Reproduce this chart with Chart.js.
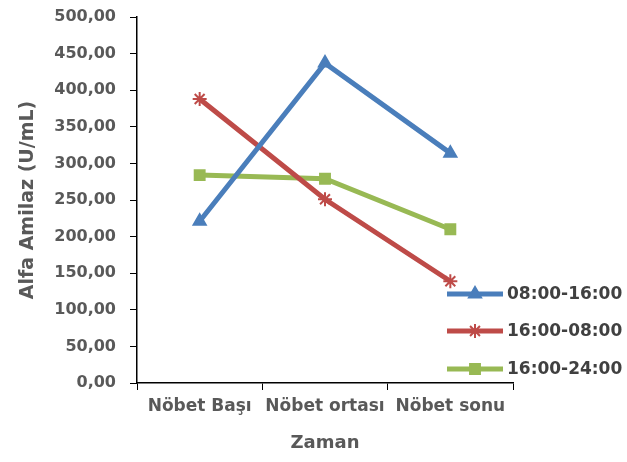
<!DOCTYPE html>
<html>
<head>
<meta charset="utf-8">
<script src="https://cdn.jsdelivr.net/npm/chart.js@4.4.1/dist/chart.umd.min.js"></script>
<style>
  html, body { margin: 0; padding: 0; background: #fff; }
  #kutu { width: 627px; height: 462px; }
</style>
</head>
<body>
<div id="kutu"><canvas id="grafik"></canvas></div>
<script>
const kategoriler = ["Nöbet Başı", "Nöbet ortası", "Nöbet sonu"];
const seriAdlari = ["08:00-16:00", "16:00-08:00", "16:00-24:00"];
const vardiya1 = [221, 437, 314];
const vardiya2 = [388, 251, 139];
const vardiya3 = [284, 279, 210];
const yMin = 0;
const yMax = 500;
const yAdim = 50;

const renkler = ["#4A7EBB", "#BE4B48", "#98B954"];
const isaretler = ["triangle", "star", "rect"];
const isaretBoyu = [7, 7, 7];

const yaziRengi = "#595959";
const yazi = "DejaVu Sans";

// legend drawn inside the plot, lower right like the excel one
const sagLejant = {
  id: "sagLejant",
  afterDraw(chart) {
    const ctx = chart.ctx;
    const x0 = 447, x1 = 503;
    const ys = [294, 331, 369];
    chart.data.datasets.forEach((ds, i) => {
      ctx.save();
      ctx.strokeStyle = ds.borderColor;
      ctx.lineWidth = 5;
      ctx.beginPath();
      ctx.moveTo(x0, ys[i]);
      ctx.lineTo(x1, ys[i]);
      ctx.stroke();
      ctx.fillStyle = ds.borderColor;
      ctx.strokeStyle = ds.borderColor;
      ctx.lineWidth = 2;
      Chart.helpers.drawPoint(ctx, { pointStyle: ds.pointStyle, radius: ds.pointRadius, borderWidth: 2 }, (x0 + x1) / 2, ys[i]);
      ctx.fillStyle = "#404040";
      ctx.font = "bold 17px " + yazi;
      ctx.textBaseline = "middle";
      ctx.textAlign = "left";
      ctx.fillText(ds.label, x1 + 4, ys[i] + 1);
      ctx.restore();
    });
  }
};

const seriler = [vardiya1, vardiya2, vardiya3].map((veri, i) => ({
  label: seriAdlari[i],
  data: veri,
  borderColor: renkler[i],
  backgroundColor: renkler[i],
  borderWidth: 5,
  pointStyle: isaretler[i],
  pointRadius: isaretBoyu[i],
  pointBorderWidth: 2,
  tension: 0,
  clip: false
}));

const grafik = new Chart(document.querySelector("#grafik"), {
  type: "line",
  data: { labels: kategoriler, datasets: seriler },
  plugins: [sagLejant],
  options: {
    responsive: true,
    maintainAspectRatio: false,
    animation: false,
    layout: { padding: { top: 17, right: 114, bottom: 8, left: 17 } },
    plugins: { legend: { display: false }, tooltip: { enabled: false } },
    scales: {
      x: {
        offset: true,
        afterFit: (s) => { s.height = 71; s.paddingLeft = 0; s.paddingRight = 0; },
        grid: { drawOnChartArea: false, drawTicks: true, tickLength: 7, color: "#000", offset: true },
        border: { color: "#000", width: 1.5 },
        ticks: { color: yaziRengi, font: { family: yazi, size: 17, weight: "bold" }, padding: 6, maxRotation: 0, autoSkip: false },
        title: { display: true, text: "Zaman", color: yaziRengi, font: { family: yazi, size: 18, weight: "bold" }, padding: { top: 9, bottom: 0 } }
      },
      y: {
        min: yMin,
        max: yMax,
        afterFit: (s) => { s.width = 120; s.paddingTop = 0; s.paddingBottom = 0; },
        ticks: {
          stepSize: yAdim,
          color: yaziRengi,
          font: { family: yazi, size: 16, weight: "bold" },
          padding: 14,
          callback: (v) => v.toFixed(2).replace(".", ",")
        },
        grid: { drawOnChartArea: false, drawTicks: true, tickLength: 7, color: "#000" },
        border: { color: "#000", width: 1.5 },
        title: { display: true, text: "Alfa Amilaz (U/mL)", color: yaziRengi, font: { family: yazi, size: 19, weight: "bold" }, padding: { top: 0, bottom: 4 } }
      }
    }
  }
});
</script>
</body>
</html>
